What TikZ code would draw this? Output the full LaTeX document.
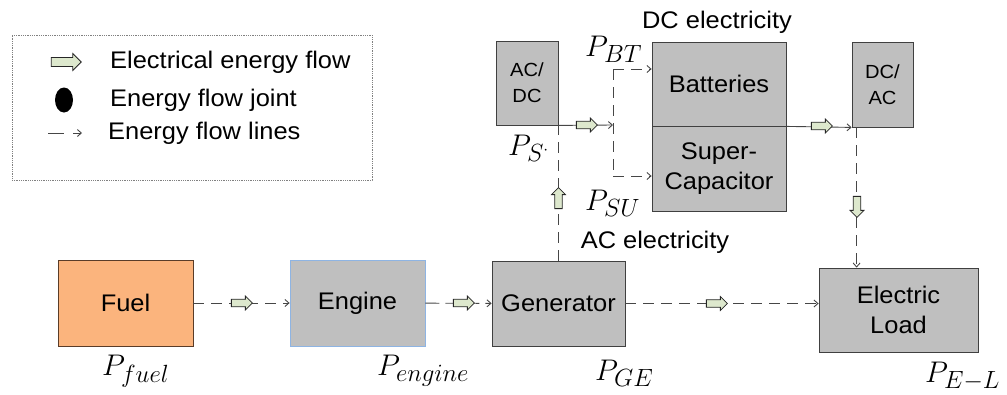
\documentclass[tikz,border=0pt]{standalone}
\usepackage{fontspec}
\setmainfont{Liberation Sans}[FakeStretch=1.06]
\usetikzlibrary{arrows.meta,shapes.arrows,shapes.geometric,calc}
\DeclareMathSizes{24.88}{24.88}{20.74}{14.4}
\definecolor{boxgray}{RGB}{191,191,191}
\definecolor{boxedge}{RGB}{64,64,64}
\definecolor{fuelorange}{RGB}{251,180,125}
\definecolor{fueledge}{RGB}{90,60,40}
\definecolor{engedge}{RGB}{142,180,227}
\definecolor{flowgreen}{RGB}{221,232,205}
\definecolor{linegray}{RGB}{70,70,70}
\newcommand{\fsA}{\fontsize{24}{30}\selectfont}
\newcommand{\fsB}{\fontsize{19}{26}\selectfont}
\newcommand{\fsM}{\fontsize{24.88}{30}\selectfont}
\newcommand{\mlab}[1]{\scalebox{1.2}{$#1$}}
\begin{document}
\begin{tikzpicture}[x=1pt,y=-1pt,
  box/.style={draw=boxedge, fill=boxgray, line width=0.8pt, inner sep=0pt, align=center, font=\fsA},
  flow/.style={single arrow, draw=black!85, fill=flowgreen, line width=0.8pt,
     minimum height=21pt, minimum width=14pt, single arrow head extend=2.5pt, inner sep=2.5pt},
  flowline/.style={draw=linegray, line width=0.9pt, dash pattern=on 11pt off 7pt,
     -{Straight Barb[length=4pt,width=7pt]}},
  solidline/.style={draw=linegray, line width=0.9pt, -{Straight Barb[length=4pt,width=7pt]}},
  plainline/.style={draw=linegray, line width=0.9pt, dash pattern=on 11pt off 7pt},
  lbl/.style={font=\fsA, inner sep=0pt},
  mlbl/.style={font=\fsM, inner sep=0pt, anchor=base west}
]
\useasboundingbox (0,0) rectangle (1007,394);

% legend
\node[draw=gray, densely dotted, line width=0.8pt, minimum width=360pt, minimum height=145pt, inner sep=0pt] (legend) at (192,107.5) {};
\node[flow, minimum height=30pt, minimum width=17pt, inner sep=3pt, single arrow head extend=3pt] (lflow) at (64,62) {};
\node[ellipse, fill=black, minimum width=18pt, minimum height=25pt, inner sep=0pt] (ljoint) at (64,100) {};
\coordinate (la1) at (48,133);
\coordinate (la2) at (82,133);
\draw[flowline, dash pattern=on 16pt off 9pt] (la1) -- (la2);
\node[lbl, anchor=west] (lt1) at (110,62) {Electrical energy flow};
\node[lbl, anchor=west] (lt2) at (110,100) {Energy flow joint};
\node[lbl, anchor=west] (lt3) at (108,133) {Energy flow lines};

% boxes
\node[box, draw=fueledge, fill=fuelorange, minimum width=135pt, minimum height=86pt] (fuel) at (125.5,303) {Fuel};
\node[box, draw=engedge, minimum width=135pt, minimum height=86pt] (engine) at (357.5,303) {Engine};
\node[box, minimum width=133pt, minimum height=85pt] (gen) at (558.5,303.5) {Generator};
\node[box, minimum width=159pt, minimum height=84pt] (load) at (898.5,310) {Electric\\Load};
\node[box, font=\fsB, minimum width=62pt, minimum height=84pt] (acdc) at (527,83) {AC/\\DC};
\node[box, minimum width=134pt, minimum height=84pt] (bat) at (719,84) {Batteries};
\node[box, minimum width=134pt, minimum height=85pt] (sup) at (719,168.5) {Super-\\Capacitor};
\node[box, font=\fsB, minimum width=61pt, minimum height=85pt] (dcac) at (882.5,84.5) {DC/\\AC};

% texts
\node[lbl] (dctxt) at (717,22) {DC electricity};
\node[lbl] (actxt) at (655,242) {AC electricity};

% math labels
\node[mlbl] (pfuel) at (102,375) {\mlab{P_{fuel}}};
\node[mlbl] (peng) at (377,375) {\mlab{P_{engine}}};
\node[mlbl] (pge) at (595,380) {\mlab{P_{GE}}};
\node[mlbl] (pel) at (925,382) {\mlab{P_{E-L}}};
\node[mlbl] (pbt) at (585,56) {\mlab{P_{BT}}};
\node[mlbl] (ps) at (508,155) {\mlab{P_{S^{\cdot}}}};
\node[mlbl] (psu) at (585,210) {\mlab{P_{SU}}};

% connectors
\draw[flowline] (fuel) -- (engine);
\draw[solidline, dash pattern=on 14pt off 6pt] (engine) -- (gen);
\draw[flowline] (gen.east) -- (gen.east -| load.west);

% AC/DC to joint
\coordinate (jm) at (613,125);
\coordinate (jt) at (613,69);
\coordinate (jb) at (613,176);
\draw[solidline] (acdc.south east) -- (jm);
\draw[plainline] (jt) -- (jb);
\draw[flowline] (jt) -- (jt -| bat.west);
\draw[flowline] (jb) -- (jb -| sup.west);

% generator up to AC/DC
\draw[plainline] (gen.north) -- (gen.north |- acdc.south);

% storage to DC/AC
\draw[solidline] (bat.south east) -- (dcac.south west);

% DC/AC to load
\coordinate (dv) at ($(dcac.south west)+(5,0)$);
\draw[flowline] (dv) -- (dv |- load.north);

% flow arrows
\node[flow] (f1) at (240,303) {};
\node[flow] (f2) at (462,303) {};
\node[flow] (f3) at (715,303.5) {};
\node[flow] (f4) at (585,125) {};
\node[flow] (f5) at (820,126) {};
\node[flow, rotate=90] (f6) at (558.5,200) {};
\node[flow, rotate=-90] (f7) at (857,205) {};
\end{tikzpicture}
\end{document}
